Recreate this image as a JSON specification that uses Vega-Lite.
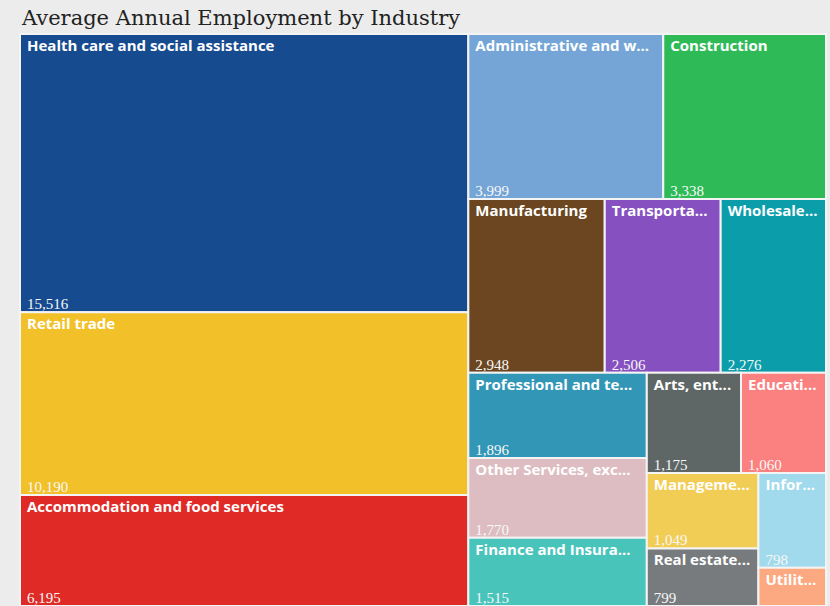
{
  "$schema": "https://vega.github.io/schema/vega-lite/v6.json",
  "width": 806,
  "height": 572,
  "autosize": {"type": "none"},
  "padding": {"left": 20, "top": 34, "right": 4, "bottom": 0},
  "background": "#ececec",
  "config": {"view": {"stroke": null}},
  "title": {
    "text": "Average Annual Employment by Industry",
    "anchor": "start",
    "frame": "group",
    "font": "DejaVu Serif",
    "fontSize": 21,
    "fontWeight": "normal",
    "color": "#222222",
    "offset": 4,
    "dx": 2
  },
  "data": {
    "values": [
      {"industry": "Health care and social assistance", "employment": 15516, "strip": 1, "dir": "v"},
      {"industry": "Retail trade", "employment": 10190, "strip": 1, "dir": "v"},
      {"industry": "Accommodation and food services", "employment": 6195, "strip": 1, "dir": "v"},
      {"industry": "Administrative and waste services", "employment": 3999, "strip": 2, "dir": "h"},
      {"industry": "Construction", "employment": 3338, "strip": 2, "dir": "h"},
      {"industry": "Manufacturing", "employment": 2948, "strip": 3, "dir": "h"},
      {"industry": "Transportation and warehousing", "employment": 2506, "strip": 3, "dir": "h"},
      {"industry": "Wholesale trade", "employment": 2276, "strip": 3, "dir": "h"},
      {"industry": "Professional and technical services", "employment": 1896, "strip": 4, "dir": "v"},
      {"industry": "Other Services, except public administration", "employment": 1770, "strip": 4, "dir": "v"},
      {"industry": "Finance and Insurance", "employment": 1515, "strip": 4, "dir": "v"},
      {"industry": "Arts, entertainment, and recreation", "employment": 1175, "strip": 5, "dir": "h"},
      {"industry": "Educational services", "employment": 1060, "strip": 5, "dir": "h"},
      {"industry": "Management of companies and enterprises", "employment": 1049, "strip": 6, "dir": "v"},
      {"industry": "Real estate and rental and leasing", "employment": 799, "strip": 6, "dir": "v"},
      {"industry": "Information", "employment": 798, "strip": 7, "dir": "v"},
      {"industry": "Utilities", "employment": 321, "strip": 7, "dir": "v"}
    ]
  },
  "transform": [
    {"joinaggregate": [{"op": "sum", "field": "employment", "as": "total"}]},
    {"joinaggregate": [{"op": "sum", "field": "employment", "as": "stripTotal"}, {"op": "count", "as": "stripCount"}], "groupby": ["strip"]},
    {"window": [{"op": "sum", "field": "employment", "as": "cumIncl"}], "sort": [{"field": "strip", "order": "ascending"}, {"field": "employment", "order": "descending"}], "frame": [null, 0]},
    {"calculate": "datum.cumIncl - datum.employment", "as": "cumBefore"},
    {"joinaggregate": [{"op": "min", "field": "cumBefore", "as": "stripStart"}], "groupby": ["strip"]},
    {"calculate": "datum.total - datum.stripStart", "as": "rem"},
    {"calculate": "datum.dir == 'h' ? log(1 - datum.stripTotal / datum.rem) / datum.stripCount : 0", "as": "term"},
    {"window": [{"op": "sum", "field": "term", "as": "termIncl"}], "sort": [{"field": "strip", "order": "ascending"}, {"field": "employment", "order": "descending"}], "frame": [null, 0]},
    {"calculate": "datum.termIncl - datum.term", "as": "termBefore"},
    {"joinaggregate": [{"op": "max", "field": "termBefore", "as": "logH"}], "groupby": ["strip"]},
    {"window": [{"op": "sum", "field": "employment", "as": "inIncl"}], "groupby": ["strip"], "sort": [{"field": "employment", "order": "descending"}], "frame": [null, 0]},
    {"calculate": "datum.inIncl - datum.employment", "as": "pre"},
    {"calculate": "806 * 572 / datum.total", "as": "k"},
    {"calculate": "572 * exp(datum.logH)", "as": "rh"},
    {"calculate": "datum.rem * datum.k / datum.rh", "as": "rw"},
    {"calculate": "datum.dir == 'v' ? 806 - datum.rw : 806 - datum.rw + datum.pre * datum.rw / datum.stripTotal", "as": "x0"},
    {"calculate": "datum.dir == 'v' ? datum.x0 + datum.stripTotal * datum.k / datum.rh : datum.x0 + datum.employment * datum.rw / datum.stripTotal", "as": "x1"},
    {"calculate": "datum.dir == 'v' ? 572 - datum.rh + datum.pre * datum.rh / datum.stripTotal : 572 - datum.rh", "as": "y0"},
    {"calculate": "datum.dir == 'v' ? datum.y0 + datum.employment * datum.rh / datum.stripTotal : datum.y0 + datum.stripTotal * datum.k / datum.rw", "as": "y1"},
    {"calculate": "datum.x1 - datum.x0 - 15", "as": "lim"}
  ],
  "encoding": {
    "x": {"field": "x0", "type": "quantitative", "scale": {"domain": [0, 806], "nice": false, "zero": false}, "axis": null},
    "y": {"field": "y0", "type": "quantitative", "scale": {"domain": [0, 572], "nice": false, "zero": false, "reverse": true}, "axis": null}
  },
  "layer": [
    {
      "mark": {"type": "rect", "stroke": "#f4f4f4", "strokeWidth": 2},
      "encoding": {
        "x2": {"field": "x1"},
        "y2": {"field": "y1"},
        "color": {
          "field": "industry",
          "type": "nominal",
          "legend": null,
          "scale": {
            "domain": ["Health care and social assistance", "Retail trade", "Accommodation and food services", "Administrative and waste services", "Construction", "Manufacturing", "Transportation and warehousing", "Wholesale trade", "Professional and technical services", "Other Services, except public administration", "Finance and Insurance", "Arts, entertainment, and recreation", "Educational services", "Management of companies and enterprises", "Real estate and rental and leasing", "Information", "Utilities"],
            "range": ["#174b8f", "#f2c029", "#df2a26", "#74a5d6", "#2ebb57", "#6b4620", "#8650c1", "#0b9daa", "#3296b6", "#ddbdc1", "#48c4bb", "#5e6666", "#fb8080", "#f1cd55", "#777b7d", "#a0daec", "#fca981"]
          }
        },
        "tooltip": [{"field": "industry"}, {"field": "employment", "format": ","}]
      }
    },
    {
      "mark": {"type": "text", "align": "left", "baseline": "top", "dx": 7, "dy": 5, "font": "Open Sans", "fontSize": 15, "fontWeight": "bold", "color": "#ffffff", "limit": {"expr": "datum.lim"}, "ellipsis": "..."},
      "encoding": {"text": {"field": "industry"}}
    },
    {
      "transform": [{"filter": "datum.y1 - datum.y0 > 40"}],
      "mark": {"type": "text", "align": "left", "baseline": "alphabetic", "dx": 7, "dy": -3, "font": "Liberation Serif", "fontSize": 15, "color": "#f8f8f8"},
      "encoding": {
        "y": {"field": "y1", "type": "quantitative"},
        "text": {"field": "employment", "format": ","}
      }
    }
  ]
}
